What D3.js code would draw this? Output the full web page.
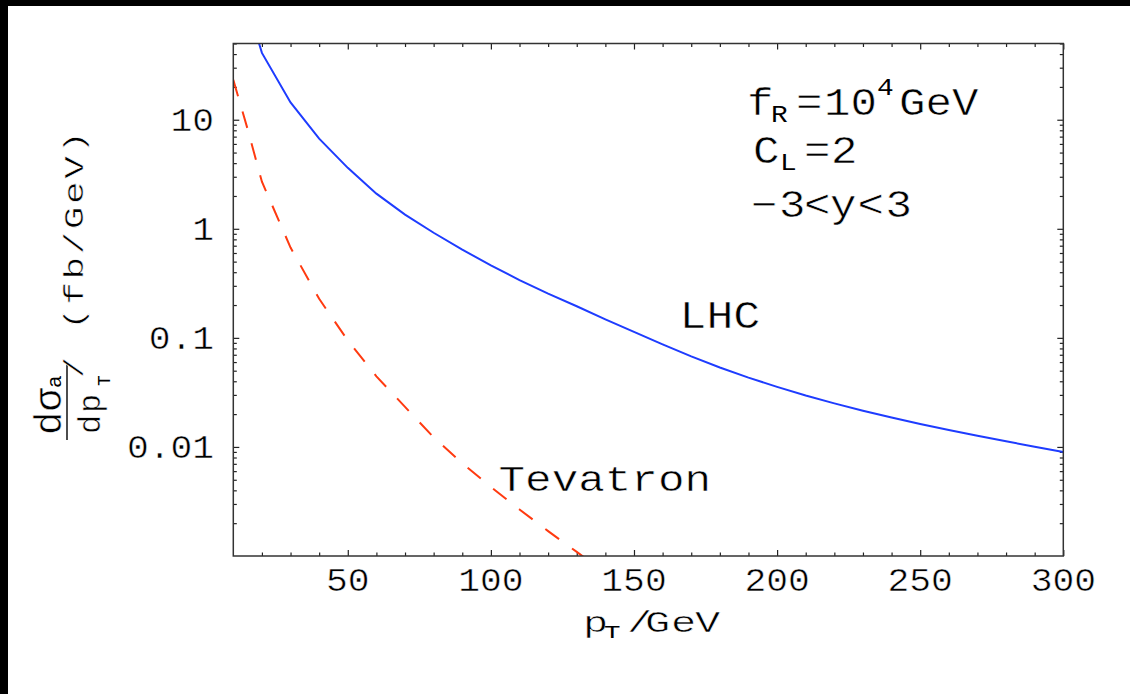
<!DOCTYPE html>
<html>
<head>
<meta charset="utf-8">
<script src="https://cdn.jsdelivr.net/npm/d3@7"></script>
<style>
html, body { margin: 0; padding: 0; background: #fff; }
svg { display: block; }
text { font-family: "Liberation Mono", monospace; fill: #000; stroke: #fff; stroke-width: 0.5px; }
.small { stroke: none; }
</style>
</head>
<body>
<svg id="chart" width="1130" height="694"></svg>
<script>
// values (pT in GeV, dsigma/dpT in fb/GeV)
var lhcPt = [19, 20, 30, 40, 50, 60, 70, 80, 90, 100, 110, 120, 130, 140, 150,
             160, 170, 180, 190, 200, 210, 220, 230, 240, 250, 260, 270, 280, 290, 300];
var lhcSigma = [50, 41, 14.4, 6.7, 3.62, 2.10, 1.35, 0.92, 0.645, 0.461, 0.339, 0.254, 0.195, 0.148, 0.1135,
                0.0871, 0.0676, 0.0535, 0.0432, 0.0355, 0.0296, 0.0251, 0.0215, 0.0186, 0.0162,
                0.01429, 0.01265, 0.01125, 0.01005, 0.00897];

var tevPt = [10, 15, 20, 30, 40, 50, 60, 70, 80, 90, 100, 110, 120, 130, 140];
var tevSigma = [23.2, 8.2, 2.70, 0.673, 0.228, 0.0946, 0.0443, 0.0233, 0.01225, 0.00708,
                0.0043, 0.00267, 0.00169, 0.00109, 0.0007];

var xTicks = [50, 100, 150, 200, 250, 300];
var xMinor = [20, 30, 40, 60, 70, 80, 90, 110, 120, 130, 140, 160, 170, 180, 190,
              210, 220, 230, 240, 260, 270, 280, 290];
var yTicks = [10, 1, 0.1, 0.01];
var yTickLabels = ["10", "1", "0.1", "0.01"];

var W = 1130, H = 694;
var plotL = 233.3, plotR = 1063.3, plotT = 43.5, plotB = 556;

var svg = d3.select("#chart");
svg.append("rect").attr("width", W).attr("height", H).attr("fill", "#fff");
// black strips at the top and left edges of the scan
svg.append("rect").attr("width", W).attr("height", 6).attr("fill", "#000");
svg.append("rect").attr("width", 8).attr("height", H).attr("fill", "#000");

var x = d3.scaleLinear().domain([10, 300]).range([plotL, plotR]);
var y = d3.scaleLog().domain([0.001, 50]).range([plotB, plotT]);

var yMinor = [];
[0.001, 0.01, 0.1, 1, 10].forEach(function(d) {
    for (var k = 2; k <= 9; k++) {
        if (d * k <= 50) yMinor.push(d * k);
    }
});

function ticks(axis, values, size, transform) {
    var g = svg.append("g")
        .attr("transform", transform)
        .call(axis.tickValues(values).tickSize(size).tickFormat(""));
    g.select(".domain").remove();
    g.selectAll("line").attr("stroke", "#222").attr("stroke-width", 1.2);
}

// inward ticks on all four sides
ticks(d3.axisBottom(x), xTicks, -6, "translate(0," + plotB + ")");
ticks(d3.axisBottom(x), xMinor, -3.5, "translate(0," + plotB + ")");
ticks(d3.axisTop(x), xTicks, -6, "translate(0," + plotT + ")");
ticks(d3.axisTop(x), xMinor, -3.5, "translate(0," + plotT + ")");
ticks(d3.axisLeft(y), yTicks, -6, "translate(" + plotL + ",0)");
ticks(d3.axisLeft(y), yMinor, -3.5, "translate(" + plotL + ",0)");
ticks(d3.axisRight(y), yTicks, -6, "translate(" + plotR + ",0)");
ticks(d3.axisRight(y), yMinor, -3.5, "translate(" + plotR + ",0)");

svg.append("clipPath").attr("id", "plotArea")
    .append("rect")
    .attr("x", plotL).attr("y", plotT)
    .attr("width", plotR - plotL).attr("height", plotB - plotT);

var line = d3.line()
    .x(function(d) { return x(d[0]); })
    .y(function(d) { return y(d[1]); });

svg.append("path")
    .datum(d3.zip(lhcPt, lhcSigma))
    .attr("clip-path", "url(#plotArea)")
    .attr("fill", "none")
    .attr("stroke", "#1e3cff")
    .attr("stroke-width", 2)
    .attr("d", line);

svg.append("path")
    .datum(d3.zip(tevPt, tevSigma))
    .attr("clip-path", "url(#plotArea)")
    .attr("fill", "none")
    .attr("stroke", "#ff3a10")
    .attr("stroke-width", 2)
    .attr("stroke-dasharray", "17,16")
    .attr("d", line);

svg.append("rect")
    .attr("x", plotL).attr("y", plotT)
    .attr("width", plotR - plotL).attr("height", plotB - plotT)
    .attr("fill", "none")
    .attr("stroke", "#333")
    .attr("stroke-width", 1.5);

// text, stretched sideways like the original
function label(px, py, size, sx, anchor) {
    return svg.append("text")
        .attr("transform", "translate(" + px + "," + py + ") scale(" + sx + ",1)")
        .attr("font-size", size)
        .attr("text-anchor", anchor || "start");
}

xTicks.forEach(function(v) {
    label(x(v), 591, 33, 1.1, "middle").text(v);
});
yTicks.forEach(function(v, i) {
    label(214, y(v) + 11, 33, 1.1, "end").text(yTickLabels[i]);
});

label(498.5, 490.7, 36, 1.23).text("Tevatron");
label(679.5, 328.3, 38, 1.18).text("LHC");

// a text made of pieces, each piece placed where it sits in the picture
function pieces(py, size, sx, parts) {
    var t = svg.append("text")
        .attr("transform", "translate(0," + py + ") scale(" + sx + ",1)")
        .attr("font-size", size);
    parts.forEach(function(p) {
        t.append("tspan")
            .attr("class", p[3] ? "small" : null)
            .attr("x", p[1] / sx)
            .attr("y", p[2] || 0)
            .attr("font-size", p[3] || size)
            .text(p[0]);
    });
}
pieces(115, 38, 1.16, [["f", 747], ["R", 771, 6.7, 24], ["=", 796], ["10", 824], ["4", 877, -20, 24], ["GeV", 899]]);
pieces(163.3, 38, 1.16, [["C", 753], ["L", 780, 6.7, 24], ["=", 804], ["2", 831]]);
pieces(216.7, 38, 1.16, [["\u2212", 751], ["3", 779], ["<", 804], ["y", 830], ["<", 857.5], ["3", 885.5]]);

// x axis title
pieces(631.7, 29, 1.45, [["p", 583], ["T", 604, 6.3, 19], ["/", 627], ["G", 645], ["e", 671], ["V", 695]]);

// y axis title, rotated, with the fraction
var yt = svg.append("g")
    .attr("transform", "translate(67,440) rotate(-90)");
yt.append("line").attr("x1", 0).attr("x2", 77).attr("y1", 0).attr("y2", 0)
    .attr("stroke", "#000").attr("stroke-width", 1.4);
yt.append("text").attr("x", 5).attr("y", -5.7).attr("font-size", 39).text("dσ");
yt.append("text").attr("class", "small").attr("x", 52).attr("y", -6.5).attr("font-size", 21).text("a");
yt.append("text").attr("x", 6).attr("y", 33).attr("font-size", 32).text("d");
yt.append("text").attr("x", 27).attr("y", 33).attr("font-size", 32).text("p");
yt.append("text").attr("class", "small").attr("x", 54).attr("y", 43).attr("font-size", 18).text("T");
yt.append("text").attr("transform", "translate(62,16) scale(1.3,1)")
    .attr("font-size", 27).text("/");
yt.append("text").attr("transform", "translate(110,16) scale(1.4,1)")
    .attr("font-size", 27).attr("letter-spacing", 1.8).text("(fb/GeV)");
</script>
</body>
</html>
